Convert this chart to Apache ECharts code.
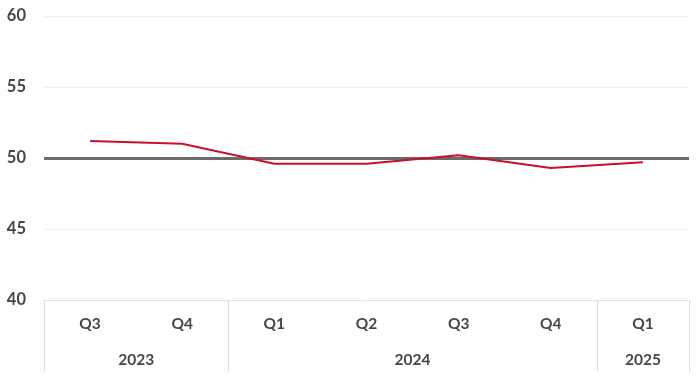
<!DOCTYPE html>
<html>
<head>
<meta charset="utf-8">
<script src="https://cdn.jsdelivr.net/npm/echarts@6/dist/echarts.min.js"></script>
<style>
  html, body { margin: 0; padding: 0; background: #fff; }
  #main { width: 700px; height: 377px; }
</style>
</head>
<body>
<div id="main"></div>
<script>
const quarters = ['Q3', 'Q4', 'Q1', 'Q2', 'Q3', 'Q4', 'Q1'];
const values = [51.2, 51.0, 49.6, 49.6, 50.2, 49.3, 49.7];
const years = ['2023', '2024', '2025'];
const yearCounts = [2, 4, 1];
const refLevel = 50;
const yTicks = [40, 45, 50, 55, 60];

// group boundaries and centers on a 0..n scale
const bounds = [0];
yearCounts.forEach(c => bounds.push(bounds[bounds.length - 1] + c));
const centers = years.map((y, i) => (bounds[i] + bounds[i + 1]) / 2);

const font = 'Lato, "Open Sans", sans-serif';
const textColor = '#474747';

const chart = echarts.init(document.getElementById('main'));
chart.setOption({
  backgroundColor: '#fff',
  animation: false,
  grid: { left: 44, right: 11, top: 16, bottom: 77 },
  xAxis: [
    {
      type: 'category',
      data: quarters,
      boundaryGap: true,
      axisLine: { lineStyle: { color: '#e3e3e3', width: 1 } },
      axisTick: { show: false },
      axisLabel: { margin: 16, color: textColor, fontFamily: font, fontWeight: 'bold', fontSize: 15.5 }
    },
    {
      type: 'value',
      min: 0,
      max: bounds[bounds.length - 1],
      position: 'bottom',
      axisLine: { show: false },
      splitLine: { show: false },
      axisTick: {
        show: true,
        customValues: bounds,
        length: 72,
        lineStyle: { color: '#dcdcdc', width: 1 }
      },
      axisLabel: {
        customValues: centers,
        margin: 52,
        color: textColor,
        fontFamily: font,
        fontWeight: 'bold',
        fontSize: 15.5,
        formatter: v => years[centers.indexOf(v)] || ''
      }
    }
  ],
  yAxis: {
    type: 'value',
    min: yTicks[0],
    max: yTicks[yTicks.length - 1],
    interval: 5,
    axisLine: { show: false },
    axisTick: { show: false },
    splitLine: { lineStyle: { color: '#f0f0f0', width: 1 } },
    axisLabel: { margin: 18, color: textColor, fontFamily: font, fontWeight: 'bold', fontSize: 16.5 }
  },
  series: [
    {
      type: 'line',
      xAxisIndex: 0,
      data: values,
      showSymbol: false,
      lineStyle: { color: '#c8102e', width: 2 },
      z: 3,
      markLine: {
        silent: true,
        symbol: 'none',
        label: { show: false },
        lineStyle: { color: '#6b6b6b', width: 3, type: 'solid' },
        data: [{ yAxis: refLevel }],
        z: 2
      }
    }
  ]
});
</script>
</body>
</html>
